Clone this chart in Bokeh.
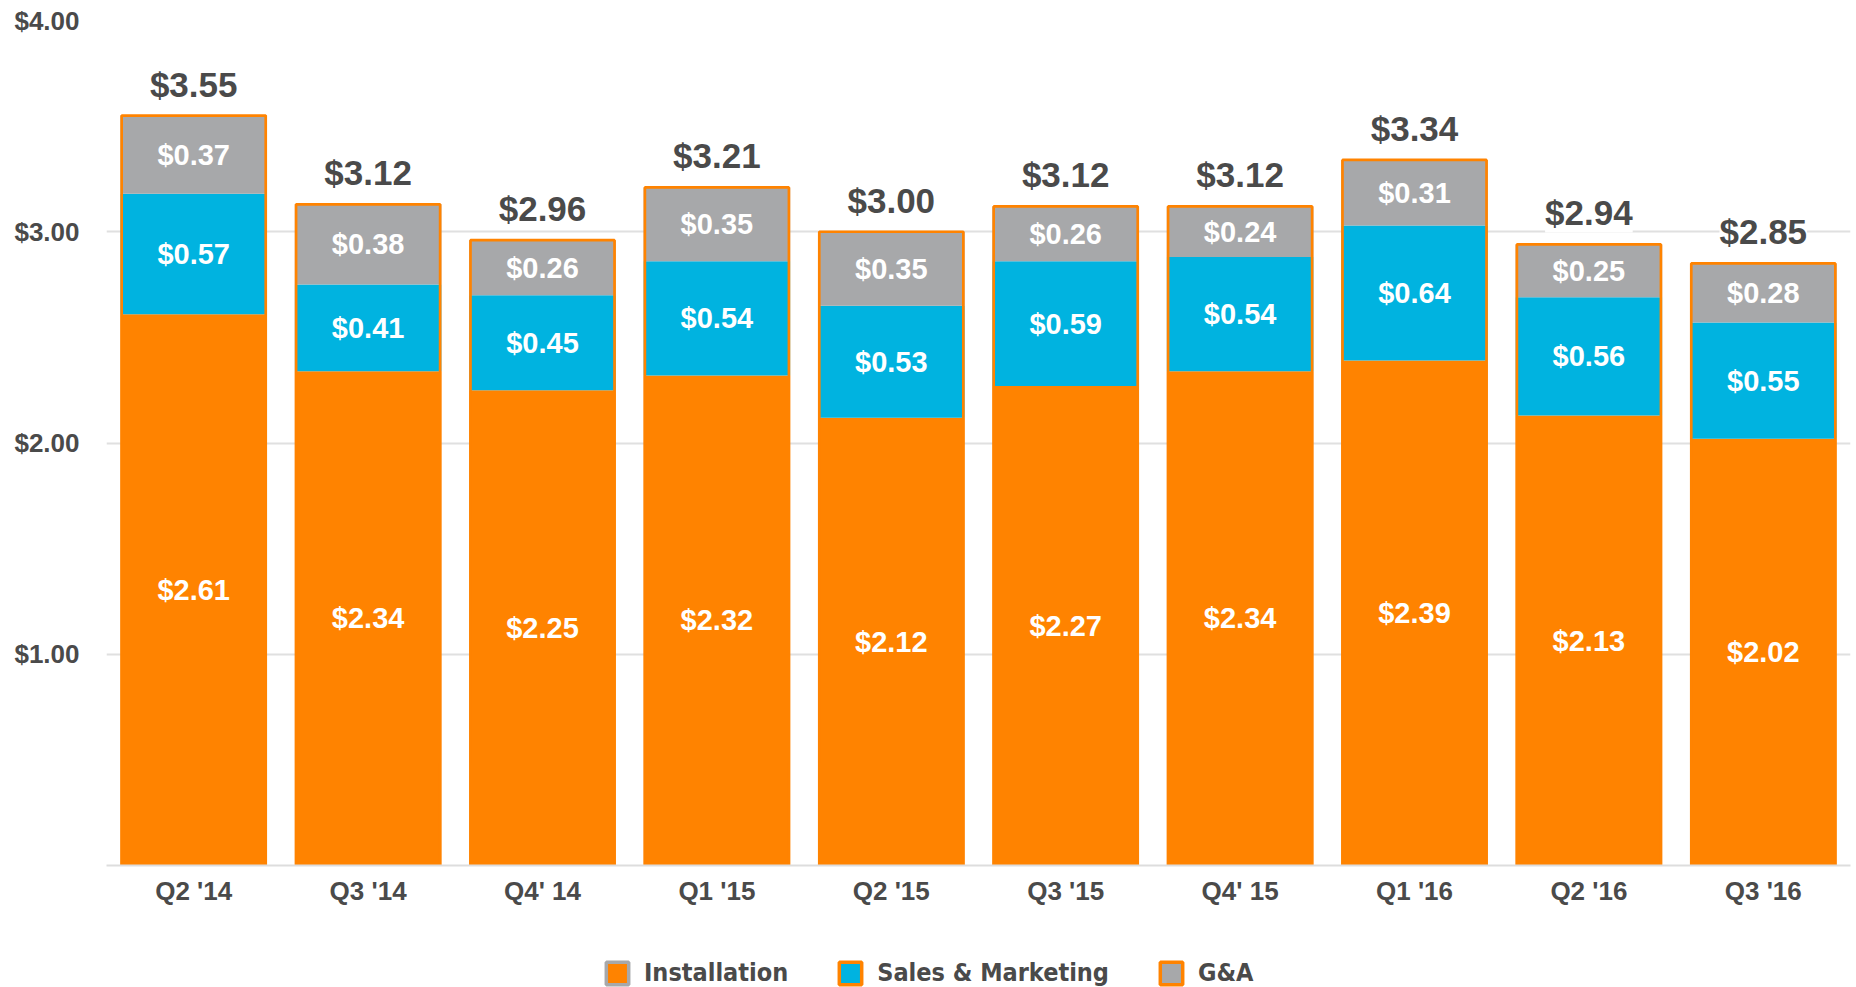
from bokeh.plotting import figure
from bokeh.layouts import column
from bokeh.models import ColumnDataSource, LabelSet, Legend, LegendItem, FixedTicker, CustomJSTickFormatter
from bokeh.core.properties import value
from bokeh.embed import file_html
from bokeh.resources import INLINE

quarters = ["Q2 '14", "Q3 '14", "Q4' 14", "Q1 '15", "Q2 '15", "Q3 '15", "Q4' 15", "Q1 '16", "Q2 '16", "Q3 '16"]
installation = [2.61, 2.34, 2.25, 2.32, 2.12, 2.27, 2.34, 2.39, 2.13, 2.02]
sales_marketing = [0.57, 0.41, 0.45, 0.54, 0.53, 0.59, 0.54, 0.64, 0.56, 0.55]
g_and_a = [0.37, 0.38, 0.26, 0.35, 0.35, 0.26, 0.24, 0.31, 0.25, 0.28]
totals = [3.55, 3.12, 2.96, 3.21, 3.00, 3.12, 3.12, 3.34, 2.94, 2.85]
y_ticks = [1, 2, 3, 4]
series_names = ["Installation", "Sales & Marketing", "G&A"]

ORANGE = "#FF8300"
BLUE = "#00B3E0"
GRAY = "#A7A8AA"
TEXT = "#4A4A4A"
FONT = "Liberation Sans"

s1 = [a + b for a, b in zip(installation, sales_marketing)]
s2 = [a + b for a, b in zip(s1, g_and_a)]

src = ColumnDataSource(dict(
    q=quarters,
    inst=installation, sm=sales_marketing, ga=g_and_a,
    s1=s1, s2=s2,
    inst_mid=[v / 2 for v in installation],
    sm_mid=[a + b / 2 for a, b in zip(installation, sales_marketing)],
    ga_mid=[a + b / 2 for a, b in zip(s1, g_and_a)],
    inst_lbl=["$%.2f" % v for v in installation],
    sm_lbl=["$%.2f" % v for v in sales_marketing],
    ga_lbl=["$%.2f" % v for v in g_and_a],
    tot=totals,
    tot_lbl=["$%.2f" % v for v in totals],
))

MAIN_H = 915
p = figure(x_range=quarters, y_range=(0, 4), width=1856, height=MAIN_H,
           output_backend="svg", toolbar_location=None,
           min_border_left=106, min_border_right=6, min_border_top=20,
           min_border_bottom=MAIN_H - 865)
p.outline_line_color = None
p.background_fill_color = "white"
p.border_fill_color = "white"

W = 0.84
p.vbar(x="q", bottom=0, top="inst", width=W, source=src, fill_color=ORANGE, line_color=None)
p.vbar(x="q", bottom="inst", top="s1", width=W, source=src, fill_color=BLUE, line_color=None)
p.vbar(x="q", bottom="s1", top="s2", width=W, source=src, fill_color=GRAY, line_color=None)
p.vbar(x="q", bottom=0, top="s2", width=W - 0.014, source=src, fill_color=None, line_color=ORANGE, line_width=2.7)

# grid / axes
p.xgrid.grid_line_color = None
p.ygrid.ticker = FixedTicker(ticks=y_ticks)
p.ygrid.grid_line_color = "#E0E0E0"
p.ygrid.grid_line_width = 2
p.yaxis.ticker = FixedTicker(ticks=y_ticks)
p.yaxis.formatter = CustomJSTickFormatter(code="return '$' + tick.toFixed(2);")
p.yaxis.axis_line_color = None
p.yaxis.major_tick_line_color = None
p.yaxis.minor_tick_line_color = None
p.yaxis.major_label_standoff = 21
p.yaxis.major_label_text_font = FONT
p.yaxis.major_label_text_font_style = "bold"
p.yaxis.major_label_text_font_size = "26px"
p.yaxis.major_label_text_color = TEXT

p.xaxis.axis_line_color = "#DDDDDD"
p.xaxis.axis_line_width = 2
p.xaxis.major_tick_line_color = None
p.xaxis.minor_tick_line_color = None
p.xaxis.major_label_standoff = 4
p.xaxis.major_label_text_font = FONT
p.xaxis.major_label_text_font_style = "bold"
p.xaxis.major_label_text_font_size = "26px"
p.xaxis.major_label_text_color = TEXT

def inner(y, lbl):
    return LabelSet(x="q", y=y, text=lbl, source=src, text_align="center", text_baseline="middle",
                    text_color="white", text_font=value(FONT), text_font_style="bold",
                    text_font_size="29px")

p.add_layout(inner("inst_mid", "inst_lbl"))
p.add_layout(inner("sm_mid", "sm_lbl"))
p.add_layout(inner("ga_mid", "ga_lbl"))

p.add_layout(LabelSet(x="q", y="s2", text="tot_lbl", source=src, text_align="center",
                      text_baseline="alphabetic", y_offset=19, text_color=TEXT, text_font=value(FONT),
                      text_font_style="bold", text_font_size="35px",
                      background_fill_color="white"))

# legend strip below the chart (proxy renderers are hidden; only their legend swatches show)
LEG_H = 987 - MAIN_H
lf = figure(width=1856, height=LEG_H, output_backend="svg", toolbar_location=None,
            x_range=(0, 1), y_range=(0, 1), min_border=0)
lf.axis.visible = False
lf.grid.visible = False
lf.outline_line_color = None
proxy = ColumnDataSource(dict(x=[0.5], t=[1]))
r1 = lf.vbar(x="x", top="t", width=0.5, source=proxy, fill_color=ORANGE, line_color=GRAY, line_width=3.5, visible=False)
r2 = lf.vbar(x="x", top="t", width=0.5, source=proxy, fill_color=BLUE, line_color=ORANGE, line_width=3.5, visible=False)
r3 = lf.vbar(x="x", top="t", width=0.5, source=proxy, fill_color=GRAY, line_color=ORANGE, line_width=3.5, visible=False)
legend = Legend(items=[LegendItem(label=series_names[0], renderers=[r1]),
                       LegendItem(label=series_names[1], renderers=[r2]),
                       LegendItem(label=series_names[2], renderers=[r3])],
                orientation="horizontal", location=(497, 0),
                glyph_width=28, glyph_height=28, label_standoff=13, spacing=48,
                label_text_font="DejaVu Sans Condensed", label_text_font_style="bold",
                label_text_font_size="25px", inactive_fill_alpha=0,
                label_text_color=TEXT, border_line_color=None, background_fill_alpha=0,
                padding=0, margin=0)
lf.add_layout(legend, "center")

open("out.html", "w").write(file_html(column(p, lf, spacing=0), INLINE))
